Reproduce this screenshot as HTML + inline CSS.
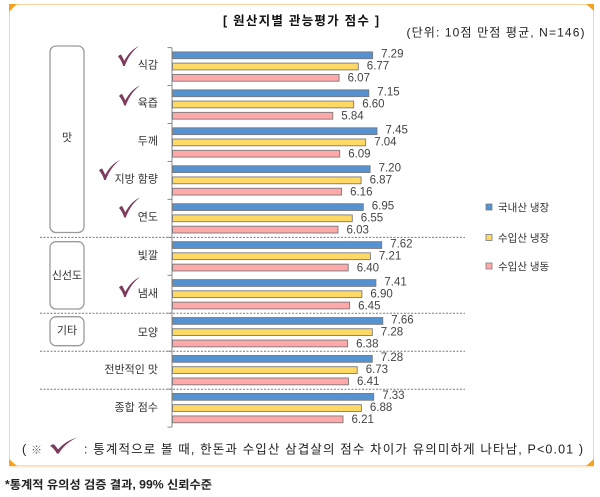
<!DOCTYPE html>
<html><head><meta charset="utf-8"><style>
html,body{margin:0;padding:0;background:#fff;}
svg{display:block;}
text{font-family:"Liberation Sans","Noto Sans CJK KR",sans-serif;}
.v{font-size:11.5px;fill:#444;}
.c{font-size:11px;fill:#333;text-anchor:end;}
.b{stroke:#7a7a7a;stroke-width:0.9;}
.bl{fill:#5592d2;}
.ye{fill:#ffd966;}
.pk{fill:#ffa8aa;}
.sep{stroke:#7a7a7a;stroke-width:1;stroke-dasharray:2,1.5;fill:none;}
.ck{fill:#7c3c5e;}
.box{fill:none;stroke:#9a9a9a;stroke-width:1.3;}
</style></head><body>
<svg width="600" height="497" viewBox="0 0 600 497" xmlns="http://www.w3.org/2000/svg">
<rect width="600" height="497" fill="#fff"/>
<!-- frame -->
<rect x="9.5" y="4.5" width="584" height="461" fill="none" stroke="#f9d59e" stroke-width="1"/>
<line x1="10" y1="466.5" x2="594" y2="466.5" stroke="#fbe7ca" stroke-width="2"/>
<polygon points="9,4 17,4 9,12" fill="#f5a31f"/>
<polygon points="586,4 594,4 594,11" fill="#f5a31f"/>
<polygon points="9,459 9,466 17,466" fill="#f5a31f"/>
<polygon points="594,459 594,466 586,466" fill="#f5a31f"/>

<!-- titles -->
<text x="301" y="25" text-anchor="middle" font-size="12.5" font-weight="bold" fill="#111" textLength="156" lengthAdjust="spacing">[ 원산지별 관능평가 점수 ]</text>
<text x="406.5" y="36.5" font-size="12" fill="#222" textLength="178" lengthAdjust="spacing">(단위: 10점 만점 평균, N=146)</text>

<!-- category boxes -->
<rect class="box" x="50" y="46" width="34" height="186.5" rx="6"/>
<text x="67" y="141" text-anchor="middle" font-size="11" fill="#333">맛</text>
<rect class="box" x="50" y="241.7" width="34" height="67.3" rx="6"/>
<text x="67" y="279" text-anchor="middle" font-size="11" fill="#333">신선도</text>
<rect class="box" x="50" y="316.7" width="34" height="29" rx="6"/>
<text x="67" y="334" text-anchor="middle" font-size="11" fill="#333">기타</text>

<!-- separators -->
<line class="sep" x1="40" y1="237.4" x2="465" y2="237.4"/>
<line class="sep" x1="40" y1="313.3" x2="465" y2="313.3"/>
<line class="sep" x1="40" y1="351.2" x2="465" y2="351.2"/>
<line class="sep" x1="40" y1="389.2" x2="465" y2="389.2"/>

<!-- axis -->
<line x1="172" y1="47.6" x2="172" y2="427.1" stroke="#8a8a8a" stroke-width="1"/>
<g stroke="#8a8a8a" stroke-width="1">
<line x1="167.5" y1="47.6" x2="172" y2="47.6"/>
<line x1="167.5" y1="85.55" x2="172" y2="85.55"/>
<line x1="167.5" y1="123.5" x2="172" y2="123.5"/>
<line x1="167.5" y1="161.45" x2="172" y2="161.45"/>
<line x1="167.5" y1="199.4" x2="172" y2="199.4"/>
<line x1="167.5" y1="237.35" x2="172" y2="237.35"/>
<line x1="167.5" y1="275.3" x2="172" y2="275.3"/>
<line x1="167.5" y1="313.25" x2="172" y2="313.25"/>
<line x1="167.5" y1="351.2" x2="172" y2="351.2"/>
<line x1="167.5" y1="389.15" x2="172" y2="389.15"/>
<line x1="167.5" y1="427.1" x2="172" y2="427.1"/>
</g>

<!-- groups -->
<!-- k0 47.6 식감 -->
<rect class="b bl" x="172.5" y="51.9" width="200.1" height="6.8"/>
<rect class="b ye" x="172.5" y="63.1" width="185.8" height="6.8"/>
<rect class="b pk" x="172.5" y="74.4" width="166.6" height="6.8"/>
<text class="v" x="381.1" y="57.6">7.29</text>
<text class="v" x="366.8" y="69.6">6.77</text>
<text class="v" x="347.6" y="81.6">6.07</text>
<text class="c" x="158" y="68.6">식감</text>

<!-- k1 85.55 육즙 -->
<rect class="b bl" x="172.5" y="89.85" width="196.3" height="6.8"/>
<rect class="b ye" x="172.5" y="101.05" width="181.2" height="6.8"/>
<rect class="b pk" x="172.5" y="112.35" width="160.3" height="6.8"/>
<text class="v" x="377.3" y="95.55">7.15</text>
<text class="v" x="362.2" y="107.55">6.60</text>
<text class="v" x="341.3" y="119.55">5.84</text>
<text class="c" x="158" y="106.55">육즙</text>

<!-- k2 123.5 두께 -->
<rect class="b bl" x="172.5" y="127.8" width="204.5" height="6.8"/>
<rect class="b ye" x="172.5" y="139" width="193.2" height="6.8"/>
<rect class="b pk" x="172.5" y="150.3" width="167.2" height="6.8"/>
<text class="v" x="385.5" y="133.5">7.45</text>
<text class="v" x="374.2" y="145.5">7.04</text>
<text class="v" x="348.2" y="157.5">6.09</text>
<text class="c" x="158" y="144.5">두께</text>

<!-- k3 161.45 지방 함량 -->
<rect class="b bl" x="172.5" y="165.75" width="197.6" height="6.8"/>
<rect class="b ye" x="172.5" y="176.95" width="188.6" height="6.8"/>
<rect class="b pk" x="172.5" y="188.25" width="169.1" height="6.8"/>
<text class="v" x="378.6" y="171.45">7.20</text>
<text class="v" x="369.6" y="183.45">6.87</text>
<text class="v" x="350.1" y="195.45">6.16</text>
<text class="c" x="158" y="182.45">지방 함량</text>

<!-- k4 199.4 연도 -->
<rect class="b bl" x="172.5" y="203.7" width="190.8" height="6.8"/>
<rect class="b ye" x="172.5" y="214.9" width="179.8" height="6.8"/>
<rect class="b pk" x="172.5" y="226.2" width="165.5" height="6.8"/>
<text class="v" x="371.8" y="209.4">6.95</text>
<text class="v" x="360.8" y="221.4">6.55</text>
<text class="v" x="346.5" y="233.4">6.03</text>
<text class="c" x="158" y="220.4">연도</text>

<!-- k5 237.35 빛깔 -->
<rect class="b bl" x="172.5" y="241.65" width="209.2" height="6.8"/>
<rect class="b ye" x="172.5" y="252.85" width="197.9" height="6.8"/>
<rect class="b pk" x="172.5" y="264.15" width="175.7" height="6.8"/>
<text class="v" x="390.2" y="247.35">7.62</text>
<text class="v" x="378.9" y="259.35">7.21</text>
<text class="v" x="356.7" y="271.35">6.40</text>
<text class="c" x="158" y="258.85">빛깔</text>

<!-- k6 275.3 냄새 -->
<rect class="b bl" x="172.5" y="279.6" width="203.4" height="6.8"/>
<rect class="b ye" x="172.5" y="290.8" width="189.4" height="6.8"/>
<rect class="b pk" x="172.5" y="302.1" width="177.1" height="6.8"/>
<text class="v" x="384.4" y="285.3">7.41</text>
<text class="v" x="370.4" y="297.3">6.90</text>
<text class="v" x="358.1" y="309.3">6.45</text>
<text class="c" x="158" y="296.8">냄새</text>

<!-- k7 313.25 모양 -->
<rect class="b bl" x="172.5" y="317.55" width="210.3" height="6.8"/>
<rect class="b ye" x="172.5" y="328.75" width="199.8" height="6.8"/>
<rect class="b pk" x="172.5" y="340.05" width="175.1" height="6.8"/>
<text class="v" x="391.3" y="323.25">7.66</text>
<text class="v" x="380.8" y="335.25">7.28</text>
<text class="v" x="356.1" y="347.25">6.38</text>
<text class="c" x="158" y="335.75">모양</text>

<!-- k8 351.2 전반적인 맛 -->
<rect class="b bl" x="172.5" y="355.5" width="199.8" height="6.8"/>
<rect class="b ye" x="172.5" y="366.7" width="184.7" height="6.8"/>
<rect class="b pk" x="172.5" y="378" width="176.0" height="6.8"/>
<text class="v" x="380.8" y="361.2">7.28</text>
<text class="v" x="365.7" y="373.2">6.73</text>
<text class="v" x="357.0" y="385.2">6.41</text>
<text class="c" x="158" y="373.2">전반적인 맛</text>

<!-- k9 389.15 종합 점수 -->
<rect class="b bl" x="172.5" y="393.45" width="201.2" height="6.8"/>
<rect class="b ye" x="172.5" y="404.65" width="188.9" height="6.8"/>
<rect class="b pk" x="172.5" y="415.95" width="170.5" height="6.8"/>
<text class="v" x="382.2" y="399.15">7.33</text>
<text class="v" x="369.9" y="411.15">6.88</text>
<text class="v" x="351.5" y="423.15">6.21</text>
<text class="c" x="158" y="411.15">종합 점수</text>

<!-- checkmarks -->
<g class="ck">
<path transform="translate(118,46)" d="M0,10.5 C1,9 2.2,8.4 3.2,8.6 L6.3,14.8 C10,8 14.5,3 21,0 C15,4.5 10,11 6.8,20 L5.2,20 C4,16 2,12.5 0,10.5 Z"/>
<path transform="translate(119,85.5)" d="M0,10.5 C1,9 2.2,8.4 3.2,8.6 L6.3,14.8 C10,8 14.5,3 21,0 C15,4.5 10,11 6.8,20 L5.2,20 C4,16 2,12.5 0,10.5 Z"/>
<path transform="translate(99,160)" d="M0,10.5 C1,9 2.2,8.4 3.2,8.6 L6.3,14.8 C10,8 14.5,3 21,0 C15,4.5 10,11 6.8,20 L5.2,20 C4,16 2,12.5 0,10.5 Z"/>
<path transform="translate(119,197.5)" d="M0,10.5 C1,9 2.2,8.4 3.2,8.6 L6.3,14.8 C10,8 14.5,3 21,0 C15,4.5 10,11 6.8,20 L5.2,20 C4,16 2,12.5 0,10.5 Z"/>
<path transform="translate(119,277)" d="M0,10.5 C1,9 2.2,8.4 3.2,8.6 L6.3,14.8 C10,8 14.5,3 21,0 C15,4.5 10,11 6.8,20 L5.2,20 C4,16 2,12.5 0,10.5 Z"/>
<path transform="translate(50,437.5) scale(1.3,0.8)" d="M0,10.5 C1,9 2.2,8.4 3.2,8.6 L6.3,14.8 C10,8 14.5,3 21,0 C15,4.5 10,11 6.8,20 L5.2,20 C4,16 2,12.5 0,10.5 Z"/>
</g>

<!-- legend -->
<rect x="486" y="204" width="6" height="6" fill="#5592d2" stroke="#7a7a7a" stroke-width="0.8"/>
<text x="498" y="211" font-size="10.5" fill="#333">국내산 냉장</text>
<rect x="486" y="234.5" width="6" height="6" fill="#ffd966" stroke="#7a7a7a" stroke-width="0.8"/>
<text x="498" y="241.5" font-size="10.5" fill="#333">수입산 냉장</text>
<rect x="486" y="263" width="6" height="6" fill="#ffa8aa" stroke="#7a7a7a" stroke-width="0.8"/>
<text x="498" y="270" font-size="10.5" fill="#333">수입산 냉동</text>

<!-- footnote inside frame -->
<text x="22" y="453.5" font-size="12.5" fill="#222">(</text>
<text x="31" y="453.5" font-size="11" fill="#666">※</text>
<text x="84" y="453.5" font-size="12.5" fill="#222" textLength="499" lengthAdjust="spacing">: 통계적으로 볼 때, 한돈과 수입산 삼겹살의 점수 차이가 유의미하게 나타남, P&lt;0.01 )</text>

<!-- bottom note -->
<text x="5" y="488.5" font-size="11.5" font-weight="bold" fill="#222" textLength="207" lengthAdjust="spacingAndGlyphs">*통계적 유의성 검증 결과, 99% 신뢰수준</text>
</svg>
</body></html>
